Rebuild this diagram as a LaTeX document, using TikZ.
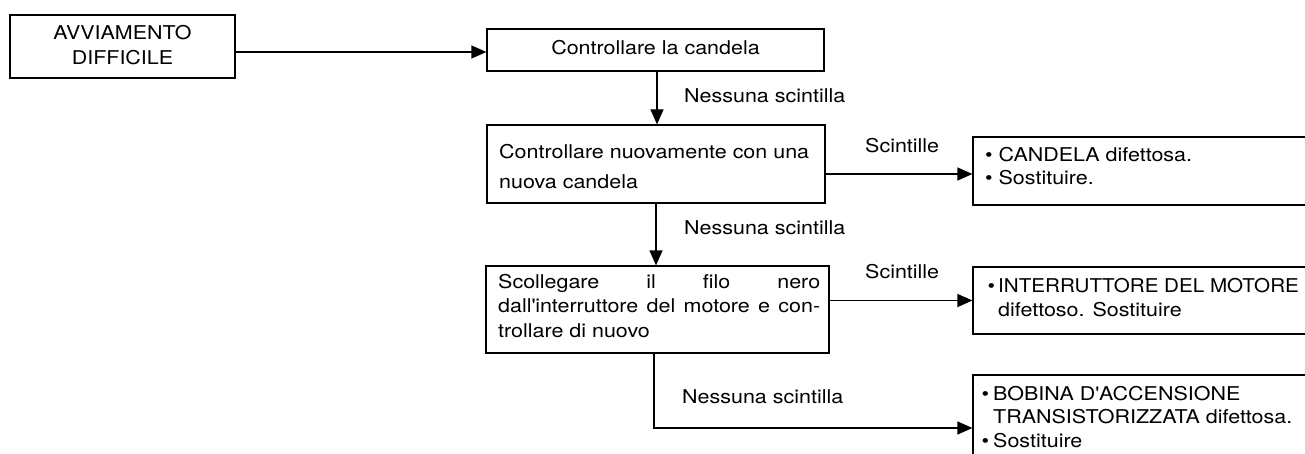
\documentclass[tikz,border=0pt]{standalone}
\usepackage{graphicx}
\usepackage{fontspec}
\setmainfont{TeX Gyre Heros}[FakeStretch=1.13]
\usetikzlibrary{arrows.meta}
\newcommand\leftlines[2]{\vtop{\baselineskip=#1\lineskiplimit=-100pt\lineskip=0pt\halign{##\hfil\cr#2\crcr}}}
\newcommand\centerlines[2]{\vtop{\baselineskip=#1\lineskiplimit=-100pt\lineskip=0pt\halign{\hfil##\hfil\cr#2\crcr}}}
\begin{document}
\begin{tikzpicture}[x=1pt,y=-1pt,font=\fontsize{19}{23}\selectfont,
  box/.style={draw,line width=1.2pt,inner sep=0pt},
  txt/.style={inner sep=0pt,anchor=base west},
  arr/.style={line width=1.2pt,-{Triangle[length=15pt,width=13pt]}}]
\useasboundingbox (0,0) rectangle (1305,454);
\clip (0,0) rectangle (1305,454);
% boxes
\node[box,minimum width=225pt,minimum height=63pt] (A) at (122.5,46.5) {};
\node[box,minimum width=337pt,minimum height=42pt] (B) at (655.5,50) {};
\node[box,minimum width=338pt,minimum height=78pt] (C) at (656,164) {};
\node[box,minimum width=347pt,minimum height=68pt] (D) at (1146.5,171) {};
\node[box,minimum width=343pt,minimum height=87pt] (E) at (657.5,309.5) {};
\node[box,minimum width=347pt,minimum height=67pt] (F) at (1146.5,300.5) {};
\node[box,minimum width=347pt,minimum height=106pt] (G) at (1146.5,428) {};
% box texts
\node[inner sep=0pt,anchor=base] (tA) at (122.5,40) {\centerlines{25pt}{AVVIAMENTO\cr DIFFICILE}};
\node[inner sep=0pt,anchor=base] (tB) at (655.5,55) {Controllare la candela};
\node[txt] (tC) at (499,159) {\leftlines{30pt}{Controllare nuovamente con una\cr nuova candela}};
\node[txt] (tD) at (985,162) {\leftlines{23pt}{\textbullet\ CANDELA difettosa.\cr\textbullet\ Sostituire.}};
\node[txt] (tE) at (498,288) {\leftlines{24.5pt}{\makebox[322pt][s]{Scollegare il filo nero}\cr\makebox[322pt][s]{dall\textquotesingle interruttore del motore e con-}\cr trollare di nuovo}};
\node[txt] (tF) at (998,292) {\leftlines{24pt}{\llap{\textbullet\hspace{3pt}}\scalebox{0.96}[1]{INTERRUTTORE DEL MOTORE}\cr difettoso. Sostituire}};
\node[txt] (tG) at (993,400) {\leftlines{23.5pt}{\llap{\textbullet\hspace{4pt}}BOBINA D\textquotesingle ACCENSIONE\cr TRANSISTORIZZATA difettosa.\cr\llap{\textbullet\hspace{4pt}}Sostituire}};
% labels
\node[txt] (l1) at (684,103) {Nessuna scintilla};
\node[txt] (l2) at (684,235) {Nessuna scintilla};
\node[txt] (l3) at (682,403) {Nessuna scintilla};
\node[txt] (s1) at (865,153) {Scintille};
\node[txt] (s2) at (865,278) {Scintille};
% connectors
\draw[arr] ([yshift=-5.5pt]A.east) -- ([yshift=-5.5pt]A.east -| B.west);
\draw[arr] ([xshift=1.5pt]B.south) -- ([xshift=1.5pt]B.south |- C.north);
\draw[arr] ([yshift=-10pt]C.east) -- ([yshift=-10pt]C.east -| D.west);
\draw[arr] (C.south) -- (C.south |- E.north);
\draw[arr] (E.east |- F.west) -- (F.west);
\draw[arr] ([xshift=-3.5pt]E.south) |- (G.west);
\end{tikzpicture}
\end{document}
